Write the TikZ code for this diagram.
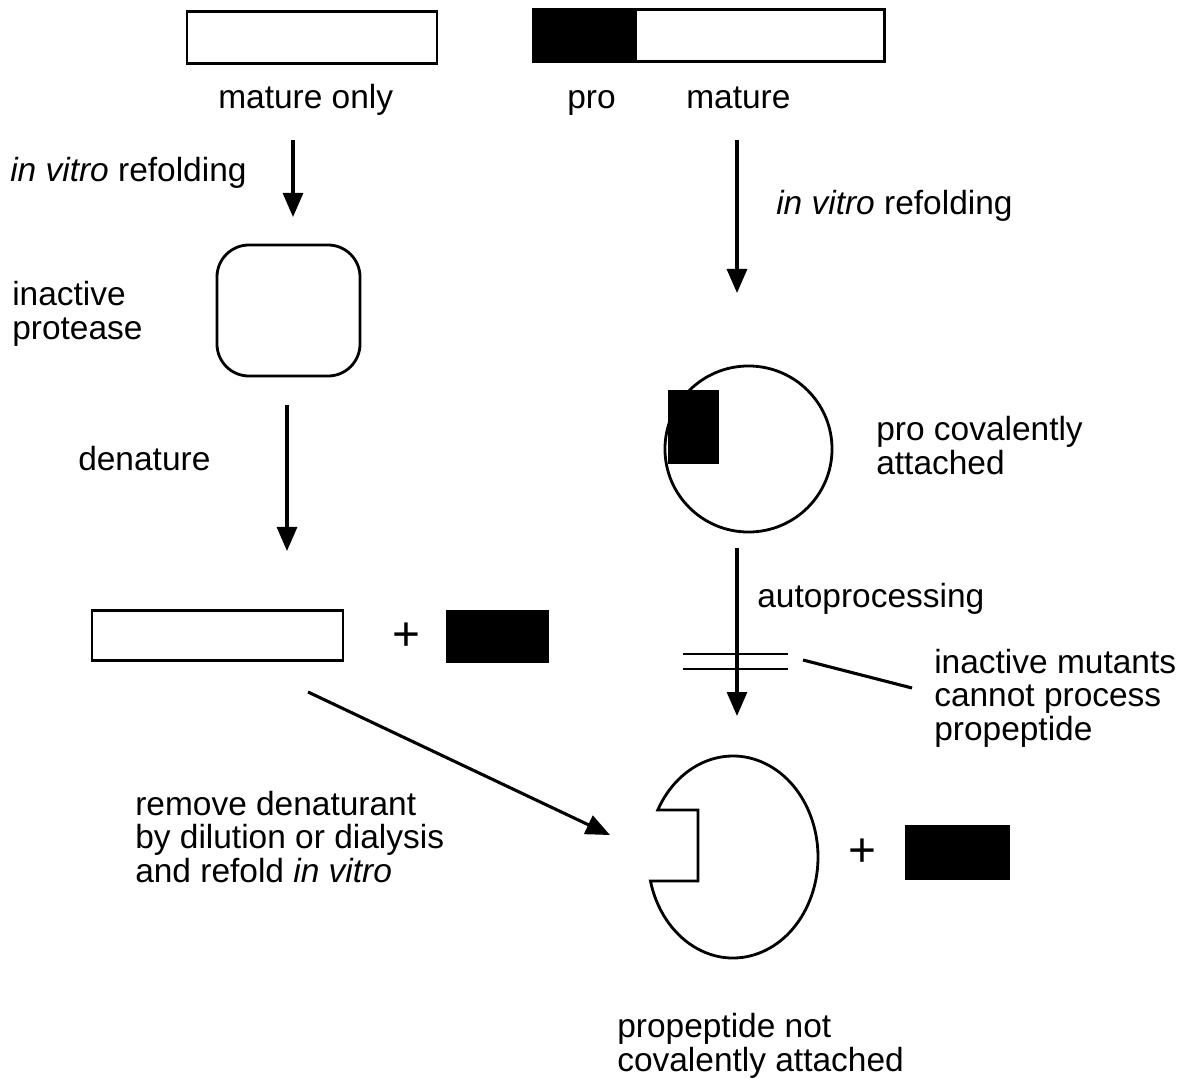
\documentclass[tikz,border=0pt]{standalone}
\usepackage{fontspec}
\setmainfont{Liberation Sans}
\usetikzlibrary{arrows.meta, positioning, calc, shapes.geometric}
\newcommand{\labfont}{\fontsize{23.8pt}{23.5pt}\selectfont}
\newcommand{\plusfont}{\fontsize{34pt}{34pt}\selectfont}

\begin{document}
\begin{tikzpicture}[x=0.025cm, y=0.025cm]
  \tikzstyle{seg} = [rectangle, draw, line width=2pt, inner sep=0pt, minimum height=1.3cm]
  \tikzstyle{matseg} = [seg, fill=white]
  \tikzstyle{proseg} = [seg, fill=black]
  \tikzstyle{goes} = [-{Triangle[width=0.5cm, length=0.6cm]}, line width=2.2pt]
  \tikzstyle{lbl} = [font=\labfont, inner sep=0pt, anchor=base west, align=left]
  \tikzstyle{plus} = [font=\plusfont, inner sep=0pt]
  \useasboundingbox (0,0) rectangle (1195,-1083);

  % starting chains
  \node[matseg, minimum width=6.25cm] at (312,-37.5) (MO) {};
  \node[proseg, minimum width=2.5cm] at (583,-35.5) (P0) {};
  \node[matseg, minimum width=6.225cm, right=0pt of P0] (M0) {};
  \node[lbl] at (218,-109) (lMO) {mature only};
  \node[lbl] at (567,-109) (lP0) {pro};
  \node[lbl] at (686,-109) (lM0) {mature};

  % left branch
  \node[lbl] at (10,-182) (lRefL) {\textit{in vitro} refolding};
  \coordinate (a1) at (293,-140);
  \coordinate (a2) at (293,-217);
  \draw[goes] (a1) -- (a2);
  \node[rectangle, draw, line width=2pt, rounded corners=0.8cm,
        minimum width=3.575cm, minimum height=3.275cm] at (288.5,-310.5) (IP) {};
  \node[lbl] at (12,-339) (lIP) {inactive\\protease};
  \coordinate (b1) at (287,-405);
  \coordinate (b2) at (287,-551);
  \draw[goes] (b1) -- (b2);
  \node[lbl] at (78,-470) (lDen) {denature};
  \node[matseg, minimum width=6.275cm, minimum height=1.25cm] at (217.5,-635.5) (MD) {};
  \node[plus] at (406,-637) (plusL) {+};
  \node[proseg, minimum width=2.525cm, minimum height=1.275cm] at (497.5,-636.5) (PD) {};
  \coordinate (c1) at (308,-692);
  \coordinate (c2) at (610,-835);
  \draw[goes] (c1) -- (c2);
  \node[lbl] at (135,-882) (lRem) {remove denaturant\\by dilution or dialysis\\and refold \textit{in vitro}};

  % right branch
  \node[lbl] at (776,-215) (lRefR) {\textit{in vitro} refolding};
  \coordinate (d1) at (737,-140);
  \coordinate (d2) at (737,-293);
  \draw[goes] (d1) -- (d2);
  \node[ellipse, draw, line width=2pt, minimum width=4.175cm, minimum height=4.15cm]
        at (748.5,-449) (PC) {};
  \node[proseg, line width=0pt, minimum width=1.25cm, minimum height=1.8cm] at (693,-427) (PIn) {};
  \node[lbl] at (876,-474) (lPC) {pro covalently\\attached};
  \coordinate (e1) at (737,-548);
  \coordinate (e2) at (737,-716);
  \draw[goes] (e1) -- (e2);
  \node[lbl] at (757,-607) (lAuto) {autoprocessing};
  \draw[line width=2pt] (683,-654) -- (788,-654) (683,-669) -- (788,-669);
  \coordinate (f1) at (803,-660);
  \coordinate (f2) at (912,-688);
  \draw[line width=2.2pt] (f1) -- (f2);
  \node[lbl] at (934,-740) (lMut) {inactive mutants\\cannot process\\propeptide};

  % cleaved product
  \coordinate (CC) at (733,-857);
  \draw[line width=2pt] ($(CC)+(152.3:85 and 101)$)
    arc[start angle=152.3, end angle=-166.3, x radius=85, y radius=101]
    -- (698,-881) -- (698,-810) -- cycle;
  \node[plus] at (862,-853) (plusR) {+};
  \node[proseg, minimum width=2.575cm, minimum height=1.325cm] at (957.5,-852.5) (PF) {};
  \node[lbl] at (617,-1071) (lFree) {propeptide not\\covalently attached};
\end{tikzpicture}
\end{document}
